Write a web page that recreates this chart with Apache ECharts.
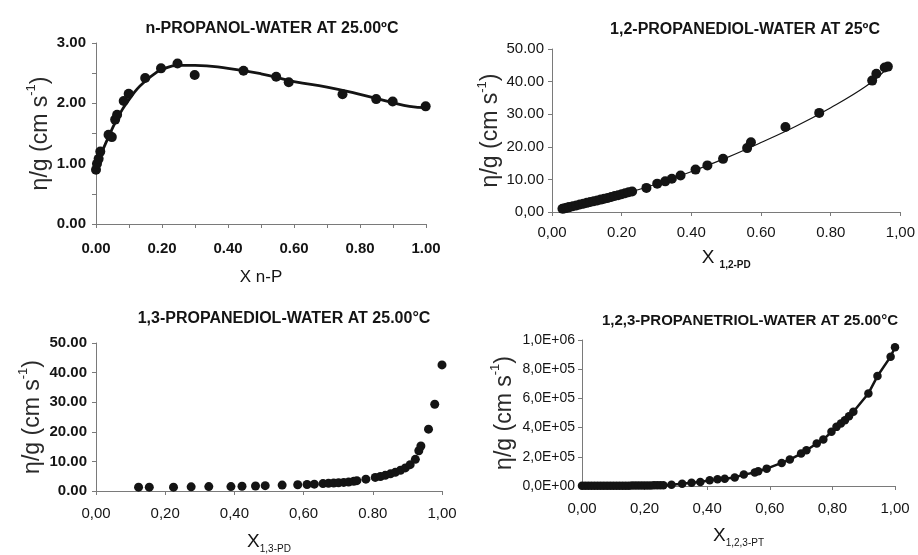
<!DOCTYPE html>
<html>
<head>
<meta charset="utf-8">
<script src="https://cdn.jsdelivr.net/npm/echarts@6/dist/echarts.min.js"></script>
<style>
html,body{margin:0;padding:0;background:#fff;}
#c{width:918px;height:555px;}
</style>
</head>
<body>
<div id="c"></div>
<script>
// ---------- Panel 1: n-propanol ----------
const x1 = [0.000, 0.003, 0.008, 0.013, 0.038, 0.048, 0.058, 0.064, 0.084, 0.099, 0.149, 0.197, 0.247, 0.299, 0.447, 0.546, 0.584, 0.747, 0.849, 0.899, 0.999];
const y1 = [0.90, 1.00, 1.08, 1.20, 1.48, 1.44, 1.73, 1.81, 2.04, 2.16, 2.42, 2.58, 2.66, 2.47, 2.54, 2.44, 2.35, 2.15, 2.07, 2.03, 1.95];
const fitX1 = [0, 0.02, 0.04, 0.06, 0.08, 0.10, 0.125, 0.15, 0.175, 0.20, 0.25, 0.30, 0.40, 0.50, 0.60, 0.70, 0.80, 0.90, 0.95, 1.00];
const fitY1 = [0.95, 1.22, 1.47, 1.70, 1.90, 2.06, 2.24, 2.37, 2.48, 2.56, 2.63, 2.63, 2.58, 2.49, 2.36, 2.27, 2.15, 2.01, 1.95, 1.93];
const xLabels1 = ['0.00', '0.20', '0.40', '0.60', '0.80', '1.00'];
const yLabels1 = ['0.00', '1.00', '2.00', '3.00'];

// ---------- Panel 2: 1,2-propanediol ----------
const x2 = [0.030,0.035,0.040,0.045,0.050,0.060,0.070,0.080,0.090,0.100,0.110,0.120,0.130,0.140,0.150,0.160,0.170,0.180,0.190,0.200,0.210,0.220,0.230,0.271,0.302,0.325,0.344,0.369,0.412,0.446,0.491,0.560,0.571,0.670,0.767,0.919,0.931,0.955,0.964];
const y2 = [1.0,1.1,1.25,1.35,1.5,1.75,2.0,2.3,2.55,2.8,3.05,3.3,3.55,3.8,4.05,4.3,4.6,4.9,5.15,5.45,5.75,6.05,6.3,7.4,8.7,9.4,10.2,11.2,13.0,14.3,16.3,19.6,21.4,26.1,30.4,40.3,42.4,44.3,44.6];
const fitX2 = [0.03, 0.10, 0.20, 0.30, 0.40, 0.50, 0.60, 0.70, 0.80, 0.90, 0.96];
const fitY2 = [1.0, 2.8, 5.4, 8.6, 12.4, 16.6, 21.3, 26.3, 32.0, 38.5, 43.8];
const xLabels2 = ['0,00', '0.20', '0.40', '0.60', '0.80', '1,00'];
const yLabels2 = ['0,00', '10.00', '20.00', '30.00', '40.00', '50.00'];

// ---------- Panel 3: 1,3-propanediol ----------
const x3 = [0.123,0.154,0.224,0.275,0.326,0.390,0.422,0.461,0.489,0.538,0.583,0.610,0.631,0.656,0.672,0.687,0.701,0.716,0.730,0.745,0.754,0.780,0.807,0.822,0.836,0.851,0.865,0.880,0.894,0.908,0.923,0.933,0.939,0.961,0.979,1.000];
const y3 = [1.3,1.3,1.3,1.4,1.5,1.5,1.6,1.7,1.8,2.0,2.1,2.2,2.3,2.5,2.6,2.7,2.8,2.9,3.0,3.3,3.5,4.0,4.6,4.9,5.3,5.8,6.3,7.0,7.8,8.9,10.7,13.6,15.2,20.9,29.3,42.6];
const xLabels3 = ['0,00', '0,20', '0,40', '0,60', '0.80', '1,00'];
const yLabels3 = ['0.00', '10.00', '20.00', '30.00', '40.00', '50.00'];

// ---------- Panel 4: 1,2,3-propanetriol ----------
const x4 = [0.000,0.010,0.020,0.030,0.040,0.050,0.060,0.070,0.080,0.090,0.100,0.110,0.120,0.130,0.140,0.150,0.160,0.170,0.180,0.190,0.200,0.210,0.220,0.230,0.240,0.250,0.260,0.286,0.320,0.350,0.378,0.408,0.433,0.456,0.488,0.517,0.552,0.563,0.590,0.638,0.664,0.700,0.717,0.750,0.771,0.797,0.813,0.827,0.840,0.853,0.867,0.915,0.944,0.986,1.000];
const y4 = [900,950,1000,1100,1150,1200,1300,1400,1500,1600,1700,1850,2000,2150,2300,2500,2700,2900,3100,3350,3600,3900,4200,4500,4900,5300,5800,9000,16000,23000,27000,39000,46000,50000,59000,78000,92000,101000,119000,158000,181000,222000,245000,291000,318000,371000,405000,428000,451000,478000,508000,634000,753000,886000,950000];
const xLabels4 = ['0,00', '0,20', '0,40', '0,60', '0,80', '1,00'];
const yLabels4 = ['0,0E+00', '2,0E+05', '4,0E+05', '6,0E+05', '8,0E+05', '1,0E+06'];

const titles = [
  'n-PROPANOL-WATER AT 25.00ºC',
  '1,2-PROPANEDIOL-WATER AT 25ºC',
  '1,3-PROPANEDIOL-WATER AT 25.00°C',
  '1,2,3-PROPANETRIOL-WATER AT 25.00°C'
];
const titleSizes = [16, 16, 16, 15];

const FONT = '"Liberation Sans", Arial, sans-serif';
const INK = '#141414';
const zip = (a, b) => a.map((v, i) => [v, b[i]]);
function fmt(labels, step) {
  return function (v) {
    const i = Math.round(v / step);
    return Math.abs(v - i * step) < step * 1e-3 ? (labels[i] || '') : '';
  };
}

const grids = [
  {left: 96, top: 43, width: 330, height: 181},
  {left: 552, top: 49, width: 352, height: 163},
  {left: 96, top: 343, width: 346, height: 153},
  {left: 582, top: 340, width: 313, height: 146}
];

const titlePos = [[267, 16], [740, 17], [279, 306], [745, 308]];

const yNameRich = {
  n: {fontSize: 23, fontFamily: FONT, color: '#2a2a2a', verticalAlign: 'bottom', lineHeight: 27},
  sup: {fontSize: 13, fontFamily: FONT, color: '#2a2a2a', verticalAlign: 'top', lineHeight: 13}
};
const yName = '{n|η/g (cm s}{sup|-1}{n|)}';

function axisCommon() {
  return {
    axisLine: {show: true, lineStyle: {color: '#7a7a7a', width: 1}},
    axisTick: {show: true, inside: false, length: 4, lineStyle: {color: '#7a7a7a'}},
    splitLine: {show: false},
    showMinLabel: true, showMaxLabel: true
  };
}

const subRich = (bold) => ({
  x: {fontSize: 19, fontFamily: FONT, color: INK, verticalAlign: 'top', lineHeight: 22},
  s: {fontSize: 10, fontWeight: bold ? 'bold' : 'normal', fontFamily: FONT, color: INK, verticalAlign: 'bottom', lineHeight: 9}
});

const xAxes = [
  Object.assign(axisCommon(), {gridIndex: 0, type: 'value', min: 0, max: 1, interval: 0.1,
    axisLabel: {formatter: fmt(xLabels1, 0.2), fontSize: 15, fontWeight: 'bold', fontFamily: FONT, color: INK, margin: 17},
    name: 'X n-P', nameLocation: 'middle', nameGap: 45,
    nameTextStyle: {fontSize: 17, fontFamily: FONT, color: INK}}),
  Object.assign(axisCommon(), {gridIndex: 1, type: 'value', min: 0, max: 1, interval: 0.2,
    axisLabel: {formatter: fmt(xLabels2, 0.2), fontSize: 15, fontFamily: FONT, color: INK, margin: 13},
    name: '{x|X }{s|1,2-PD}', nameLocation: 'middle', nameGap: 36,
    nameTextStyle: {rich: subRich(true)}}),
  Object.assign(axisCommon(), {gridIndex: 2, type: 'value', min: 0, max: 1, interval: 0.2,
    axisLabel: {formatter: fmt(xLabels3, 0.2), fontSize: 15, fontFamily: FONT, color: INK, margin: 15},
    name: '{x|X}{s|1,3-PD}', nameLocation: 'middle', nameGap: 41,
    nameTextStyle: {rich: subRich(false)}}),
  Object.assign(axisCommon(), {gridIndex: 3, type: 'value', min: 0, max: 1, interval: 0.2,
    axisLabel: {formatter: fmt(xLabels4, 0.2), fontSize: 15, fontFamily: FONT, color: INK, margin: 15},
    name: '{x|X}{s|1,2,3-PT}', nameLocation: 'middle', nameGap: 40,
    nameTextStyle: {rich: subRich(false)}})
];

const yAxes = [
  Object.assign(axisCommon(), {gridIndex: 0, type: 'value', min: 0, max: 3, interval: 0.5,
    axisLabel: {formatter: fmt(yLabels1, 1), fontSize: 15, fontWeight: 'bold', fontFamily: FONT, color: INK, margin: 10},
    name: yName, nameLocation: 'middle', nameGap: 44, nameRotate: 90, nameTextStyle: {rich: yNameRich}}),
  Object.assign(axisCommon(), {gridIndex: 1, type: 'value', min: 0, max: 50, interval: 10,
    axisLabel: {formatter: fmt(yLabels2, 10), fontSize: 15, fontFamily: FONT, color: INK, margin: 8},
    name: yName, nameLocation: 'middle', nameGap: 46, nameRotate: 90, nameTextStyle: {rich: yNameRich}}),
  Object.assign(axisCommon(), {gridIndex: 2, type: 'value', min: 0, max: 50, interval: 10,
    axisLabel: {formatter: fmt(yLabels3, 10), fontSize: 15, fontWeight: 'bold', fontFamily: FONT, color: INK, margin: 9},
    name: yName, nameLocation: 'middle', nameGap: 52, nameRotate: 90, nameTextStyle: {rich: yNameRich}}),
  Object.assign(axisCommon(), {gridIndex: 3, type: 'value', min: 0, max: 1000000, interval: 200000,
    axisLabel: {formatter: fmt(yLabels4, 200000), fontSize: 14, fontFamily: FONT, color: INK, margin: 7},
    name: yName, nameLocation: 'middle', nameGap: 66, nameRotate: 90, nameTextStyle: {rich: yNameRich}})
];

const dot = (size) => ({type: 'scatter', symbol: 'circle', symbolSize: size, itemStyle: {color: INK, opacity: 1}, z: 3});

const series = [
  Object.assign(dot(10), {xAxisIndex: 0, yAxisIndex: 0, data: zip(x1, y1)}),
  {type: 'line', xAxisIndex: 0, yAxisIndex: 0, data: zip(fitX1, fitY1), smooth: 0.5, showSymbol: false,
   lineStyle: {color: INK, width: 2.8}, z: 2},
  Object.assign(dot(10), {xAxisIndex: 1, yAxisIndex: 1, data: zip(x2, y2)}),
  {type: 'line', xAxisIndex: 1, yAxisIndex: 1, data: zip(fitX2, fitY2), smooth: 0.4, showSymbol: false,
   lineStyle: {color: INK, width: 1.2}, z: 2},
  Object.assign(dot(9), {xAxisIndex: 2, yAxisIndex: 2, data: zip(x3, y3)}),
  {type: 'line', xAxisIndex: 3, yAxisIndex: 3, data: zip(x4, y4), symbol: 'circle', symbolSize: 8.5, showSymbol: true,
   itemStyle: {color: INK, opacity: 1}, lineStyle: {color: INK, width: 2.5}, z: 3}
];

const chart = echarts.init(document.getElementById('c'), null, {renderer: 'canvas'});
chart.setOption({
  animation: false,
  backgroundColor: '#ffffff',
  title: titles.map((t, i) => ({
    text: t, left: titlePos[i][0], top: titlePos[i][1], textAlign: 'center',
    textStyle: {fontSize: titleSizes[i], fontWeight: 'bold', fontFamily: FONT, color: INK}
  })),
  grid: grids,
  xAxis: xAxes,
  yAxis: yAxes,
  series: series
});
</script>
</body>
</html>
